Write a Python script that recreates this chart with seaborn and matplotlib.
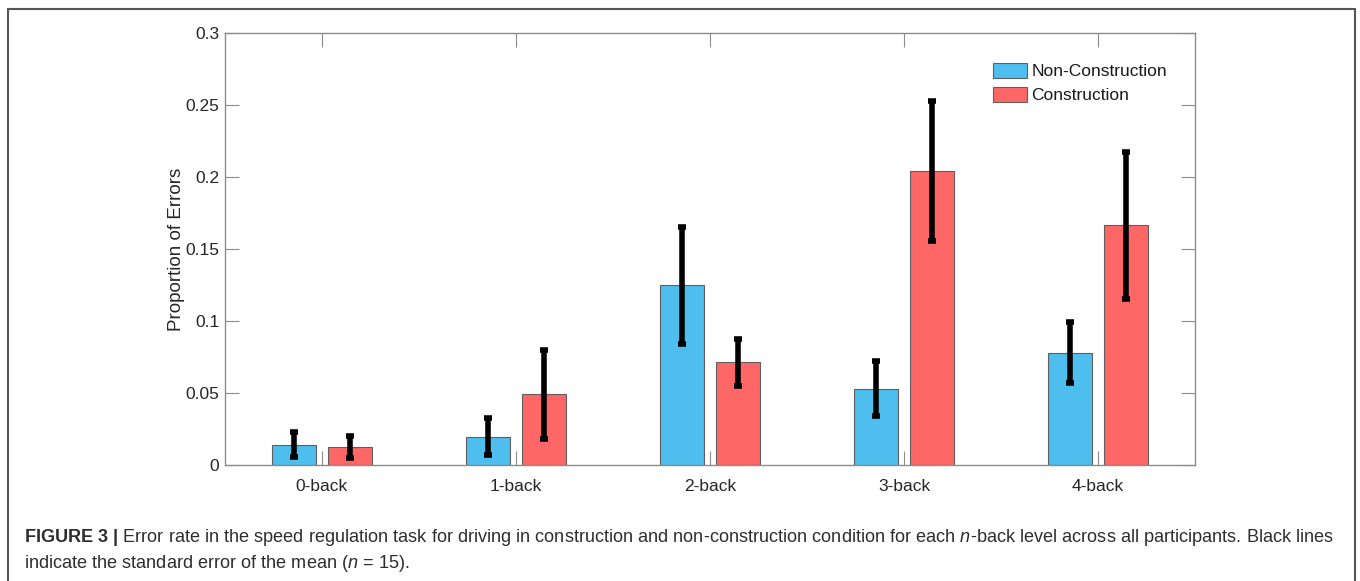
import matplotlib
matplotlib.use("Agg")
import matplotlib.pyplot as plt
import matplotlib.patches as mpatches
import numpy as np
import pandas as pd
import seaborn as sns

# ---- data -------------------------------------------------------------
levels = ["0-back", "1-back", "2-back", "3-back", "4-back"]
conditions = ["Non-Construction", "Construction"]
non_construction_mean = [0.0141, 0.0197, 0.1247, 0.0530, 0.0778]
construction_mean = [0.0124, 0.0491, 0.0712, 0.2040, 0.1664]
non_construction_se = [0.0088, 0.0127, 0.0408, 0.0190, 0.0212]
construction_se = [0.0074, 0.0310, 0.0160, 0.0487, 0.0511]
y_ticks = [0, 0.05, 0.1, 0.15, 0.2, 0.25, 0.3]
y_tick_labels = ["0", "0.05", "0.1", "0.15", "0.2", "0.25", "0.3"]

df = pd.DataFrame({
    "level": levels * 2,
    "condition": [conditions[0]] * len(levels) + [conditions[1]] * len(levels),
    "value": non_construction_mean + construction_mean,
    "se": non_construction_se + construction_se,
})

# ---- style ------------------------------------------------------------
sns.set_style("white")
plt.rcParams["font.family"] = ["Liberation Sans", "DejaVu Sans"]
plt.rcParams["mathtext.fontset"] = "custom"
plt.rcParams["mathtext.rm"] = "Liberation Sans"
plt.rcParams["mathtext.bf"] = "Liberation Sans:bold"
plt.rcParams["mathtext.it"] = "Liberation Sans:italic"

W, H = 1360, 581
fig = plt.figure(figsize=(W / 100, H / 100), dpi=100)
ax = fig.add_axes([225 / W, 1 - 465 / H, (1195 - 225) / W, (465 - 33) / H])

palette = {"Non-Construction": "#4DBEEE", "Construction": "#FF6666"}
sns.barplot(
    data=df, x="level", y="value", hue="condition", order=levels,
    hue_order=conditions, palette=palette, errorbar=None,
    width=0.577, gap=0.213, saturation=1, edgecolor="#5f5f5f",
    linewidth=0.8, ax=ax, legend=False,
)

# standard-error bars centred on each bar
se_by_cond = {conditions[0]: non_construction_se, conditions[1]: construction_se}
for cond, container in zip(conditions, ax.containers):
    xs = [b.get_x() + b.get_width() / 2 for b in container]
    ys = [b.get_height() for b in container]
    ax.errorbar(xs, ys, yerr=se_by_cond[cond], fmt="none", ecolor="black",
                elinewidth=4, capsize=3, capthick=4, zorder=5)

ax.set_xlim(-0.5, len(levels) - 0.5)
ax.set_ylim(0, 0.3)
ax.set_yticks(y_ticks)
ax.set_yticklabels(y_tick_labels)
ax.set_xlabel("")
ax.set_ylabel("Proportion of Errors", fontsize=13.5, color="#262626",
              labelpad=0.5)

axis_grey = "#8c8c8c"
for s in ax.spines.values():
    s.set_visible(True)
    s.set_color(axis_grey)
    s.set_linewidth(1.0)
ax.tick_params(axis="both", which="major", direction="in", length=10,
               width=0.8, color=axis_grey, labelsize=12.5,
               labelcolor="#262626", top=True, right=True,
               bottom=True, left=True)
ax.tick_params(axis="x", pad=10)
ax.tick_params(axis="y", pad=4)

# legend
handles = [mpatches.Patch(facecolor=palette[c], edgecolor="#5f5f5f",
                          linewidth=0.8, label=c) for c in conditions]
fig.legend(handles=handles, loc="upper left",
           bbox_to_anchor=(993 / W, 1 - 63 / H), frameon=False,
           fontsize=12.5, handlelength=1.95, handleheight=0.95,
           handletextpad=0.25, labelspacing=0.42, borderpad=0,
           borderaxespad=0, labelcolor="#1a1a1a")

# outer panel frame (open at the bottom)
frame_col = "#555555"
fig.add_artist(plt.Line2D([8 / W, 8 / W], [0, 1 - 9 / H], color=frame_col,
                          lw=1.5, transform=fig.transFigure))
fig.add_artist(plt.Line2D([8 / W, 1355 / W], [1 - 9 / H, 1 - 9 / H],
                          color=frame_col, lw=1.5, transform=fig.transFigure))
fig.add_artist(plt.Line2D([1355 / W, 1355 / W], [0, 1 - 9 / H],
                          color=frame_col, lw=1.5, transform=fig.transFigure))

# caption
cap1 = (r"$\mathbf{FIGURE\ 3\ |}$ Error rate in the speed regulation task for "
        r"driving in construction and non-construction condition for each "
        r"$\mathit{n}$-back level across all participants. Black lines")
cap2 = r"indicate the standard error of the mean ($\mathit{n}$ = 15)."
fig.text(24 / W, 1 - 538 / H, cap1, fontsize=13.1, color="#2e2e2e",
         ha="left", va="center")
fig.text(24 / W, 1 - 564 / H, cap2, fontsize=13.1, color="#2e2e2e",
         ha="left", va="center")

fig.savefig("out.png", dpi=100)
